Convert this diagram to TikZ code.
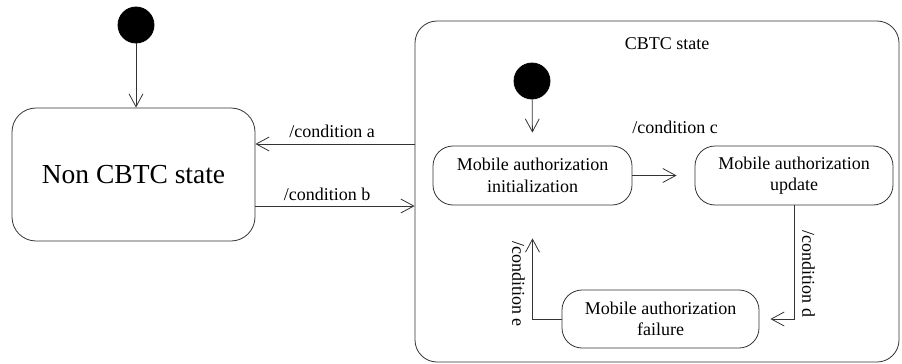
\documentclass[tikz,border=0pt]{standalone}
\usepackage{fontspec}
\setmainfont{Liberation Serif}
\usetikzlibrary{arrows.meta}
\begin{document}
\begin{tikzpicture}[x=1pt,y=-1pt,
  line width=0.8pt,
  tip/.style={draw=black!80,-{Straight Barb[length=13pt,width=14pt,line width=0.8pt]}},
  statebox/.style={draw=black!80,rounded corners=20pt,align=center,inner sep=0pt,
    font=\fontsize{18}{21.5}\selectfont},
  initdot/.style={circle,fill=black,draw=black,minimum size=36pt,inner sep=0pt},
  lbl/.style={font=\fontsize{18}{21.5}\selectfont,inner sep=0pt}]
\useasboundingbox (0,0) rectangle (902,364);

% outer states
\node[statebox,minimum width=243pt,minimum height=133pt,rounded corners=24pt,
  font=\fontsize{27.5}{32}\selectfont] (nonc) at (133.5,174.5) {Non CBTC state};
\node[draw=black!80,rounded corners=22pt,minimum width=484pt,minimum height=341pt,
  inner sep=0pt] (cbtc) at (657,191.5) {};
\node[lbl,anchor=base] (cbtctitle) at (667,49) {CBTC state};

% initial pseudo-states
\node[initdot] (dotA) at (136,25) {};
\node[initdot] (dotB) at (532,81) {};

% inner states
\node[statebox,minimum width=199pt,minimum height=59pt] (init) at (532.5,175.5)
  {Mobile authorization\\initialization};
\node[statebox,minimum width=198pt,minimum height=59pt] (upd) at (794,175.5)
  {Mobile authorization\\update};
\node[statebox,minimum width=197pt,minimum height=58pt] (fail) at (660.5,319)
  {Mobile authorization\\failure};

% transitions
\draw[tip] (dotA) -- (dotA |- nonc.north);
\draw[tip] (cbtc.west |- 0,144) -- (nonc.east |- 0,144);
\draw[tip] (nonc.east |- 0,206) -- (cbtc.west |- 0,206);
\draw[tip,shorten >=13pt] (dotB) -- (init.north);
\draw[tip,shorten >=18pt] (init.east) -- (upd.west);
\draw[tip,shorten >=11pt] (upd.south) |- (fail.east);
\draw[tip,shorten >=33pt] (fail.west) -| (init.south);

% transition labels
\node[lbl,anchor=base] (la) at (332,137) {/condition a};
\node[lbl,anchor=base] (lb) at (327,200) {/condition b};
\node[lbl,anchor=base] (lc) at (675,133) {/condition c};
\node[lbl,rotate=-90] (ld) at (808.5,274) {/condition d};
\node[lbl,rotate=-90] (le) at (518.5,284) {/condition e};
\end{tikzpicture}
\end{document}
